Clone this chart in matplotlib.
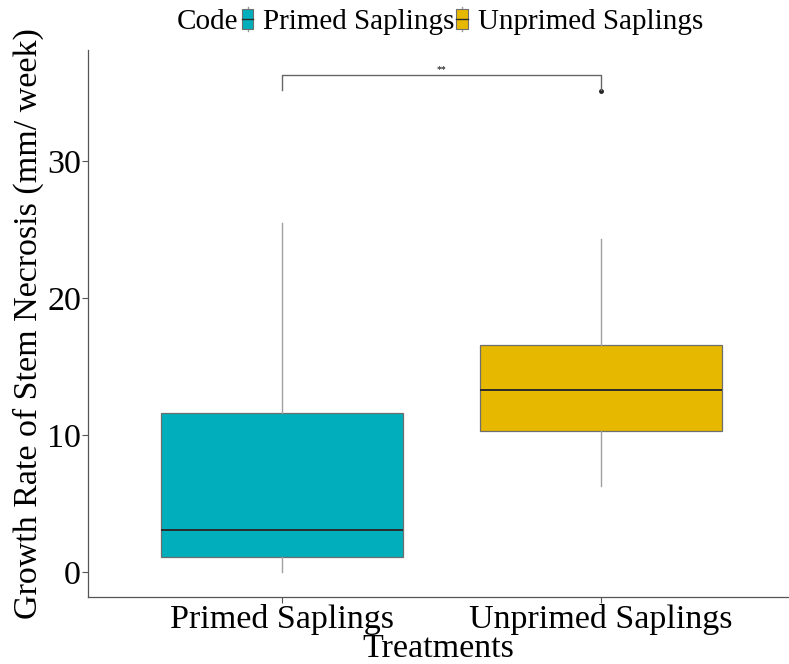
import numpy as np
import matplotlib.pyplot as plt
from matplotlib.patches import Rectangle
from matplotlib.lines import Line2D
from matplotlib.legend_handler import HandlerBase

plt.rcParams['font.family'] = ['Liberation Serif', 'DejaVu Serif']

groups = ['Primed Saplings', 'Unprimed Saplings']
colors = ['#00AFBB', '#E7B800']
whislo = [0.0, 6.3]
q1 = [1.1, 10.3]
med = [3.1, 13.3]
q3 = [11.6, 16.6]
whishi = [25.5, 24.3]
fliers = [[], [35.1]]
sig_y = 36.3
sig_label = '**'

fig = plt.figure(figsize=(7.89, 6.64), dpi=100)
ax = fig.add_axes([88/789, 1-597/664, (789-88)/789, (597-50)/664])

stats = []
for i in range(len(groups)):
    stats.append(dict(whislo=whislo[i], q1=q1[i], med=med[i], q3=q3[i],
                      whishi=whishi[i], fliers=fliers[i], label=groups[i]))

bp = ax.bxp(stats, positions=[1, 2], widths=0.76, patch_artist=True,
            showcaps=False,
            boxprops=dict(edgecolor='#6e6e6e', linewidth=0.9),
            medianprops=dict(color='#2b2b2b', linewidth=1.4),
            whiskerprops=dict(color='#a0a0a0', linewidth=1.0),
            flierprops=dict(marker='o', markerfacecolor='#222222',
                            markeredgecolor='#222222', markersize=2.5))
for patch, c in zip(bp['boxes'], colors):
    patch.set_facecolor(c)

# significance bracket
ax.plot([1, 1, 2, 2], [35.2, sig_y, sig_y, 35.2], color='#666666', lw=1.0)
ax.text(1.5, sig_y + 0.05, sig_label, ha='center', va='bottom', fontsize=7)

ax.set_xlim(0.39, 2.59)
ax.set_ylim(-1.8, 38.1)
ax.set_yticks([0, 10, 20, 30])
ax.set_xticks([1, 2])
ax.set_xticklabels(groups)
ax.tick_params(labelsize=24.5, length=4, width=0.8, color='#555555', pad=1)
for s in ['top', 'right']:
    ax.spines[s].set_visible(False)
for s in ['left', 'bottom']:
    ax.spines[s].set_color('#555555')
    ax.spines[s].set_linewidth(0.9)
ax.set_xlabel('Treatments', fontsize=24.5, labelpad=-1)
ax.set_ylabel('Growth Rate of Stem Necrosis (mm/ week)', fontsize=24.5, labelpad=2)


class BoxKey(HandlerBase):
    def create_artists(self, legend, orig_handle, xdescent, ydescent,
                       width, height, fontsize, trans):
        cx = width / 2 - xdescent
        w = width * 0.9
        h = height * 0.95
        y0 = -ydescent + (height - h) / 2
        wl = Line2D([cx, cx], [y0 - 2, y0 + h + 2], color='#9a9a9a', lw=1, transform=trans)
        r = Rectangle((cx - w/2, y0), w, h, facecolor=orig_handle.get_facecolor(),
                      edgecolor='#6e6e6e', lw=0.8, transform=trans)
        ml = Line2D([cx - w/2, cx + w/2], [y0 + h/2, y0 + h/2], color='#2b2b2b', lw=1, transform=trans)
        return [wl, r, ml]


handles = [Rectangle((0, 0), 1, 1, facecolor=c) for c in colors]
fig.text(177/789, 1-22/664, 'Code', fontsize=21, ha='left', va='center')
fig.legend(handles, groups, handler_map={Rectangle: BoxKey()}, ncol=2,
           loc='center left', bbox_to_anchor=(241/789, 1-22/664), frameon=False,
           fontsize=21, handlelength=0.45, handletextpad=0.3, columnspacing=0.05,
           borderpad=0, borderaxespad=0)

fig.savefig('out.png', dpi=100)
